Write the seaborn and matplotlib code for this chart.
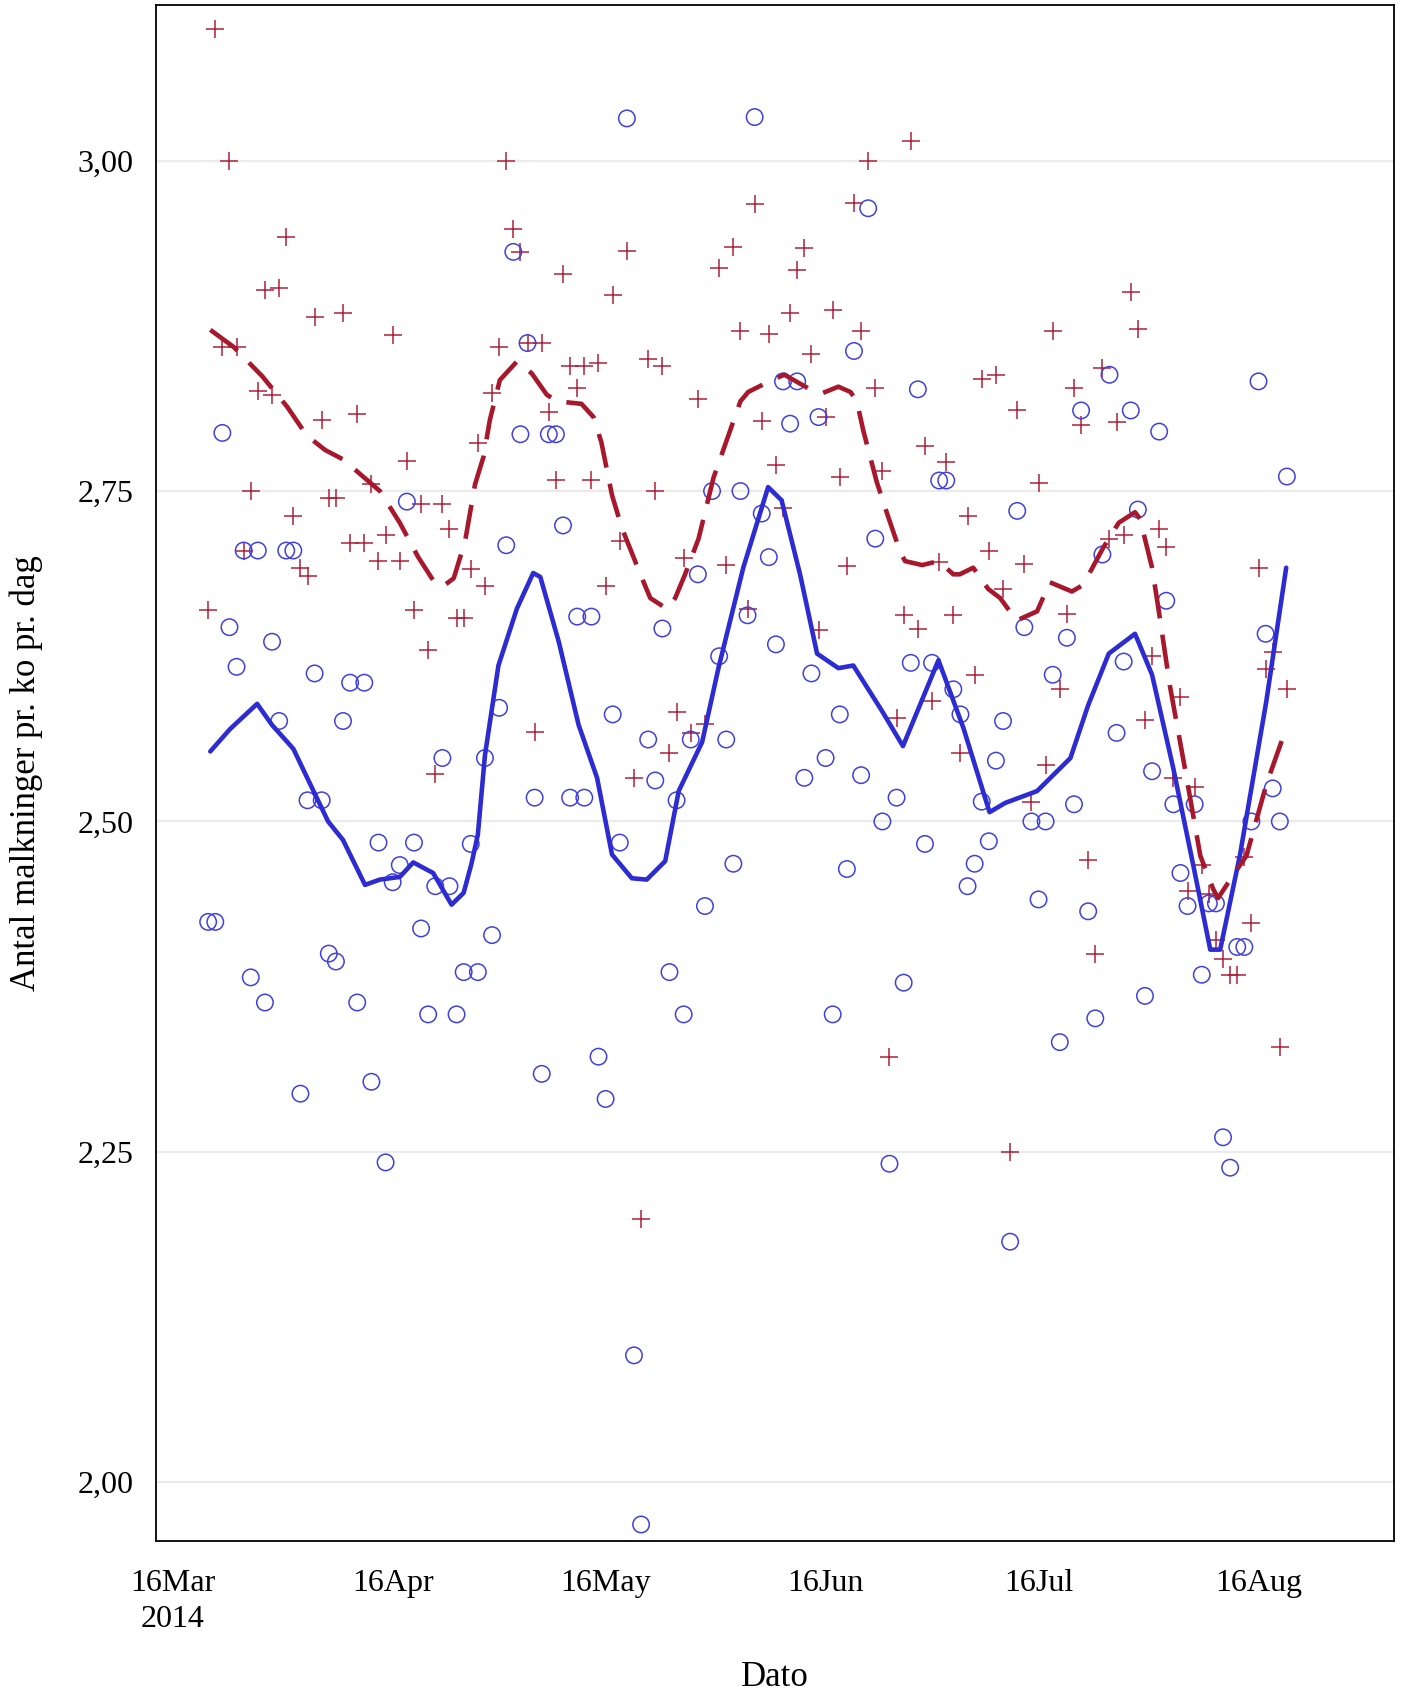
import pandas as pd
import matplotlib
matplotlib.use("Agg")
import matplotlib.pyplot as plt
from matplotlib.ticker import FuncFormatter
import seaborn as sns

# day offsets counted from 16 Mar 2014
start = pd.Timestamp("2014-03-16")

red_days = [5, 6, 7, 8, 9, 10, 11, 12, 13, 14, 15, 16, 17, 18, 19, 20, 21, 22, 23, 24,
            25, 26, 27, 28, 29, 30, 31, 32, 33, 34, 35, 36, 37, 38, 39, 40, 41, 42, 43, 44,
            45, 46, 47, 48, 49, 50, 51, 52, 53, 54, 55, 56, 57, 58, 59, 60, 61, 62, 63, 64,
            65, 66, 67, 68, 69, 70, 71, 72, 73, 74, 75, 77, 78, 79, 80, 81, 82, 83, 84, 85,
            86, 87, 88, 89, 90, 91, 92, 93, 94, 95, 96, 97, 98, 99, 100, 101, 102, 103, 104, 105,
            106, 107, 108, 109, 110, 111, 112, 113, 114, 115, 116, 117, 118, 119, 120, 121, 122, 123, 124, 125,
            126, 127, 128, 129, 130, 131, 132, 133, 134, 135, 136, 137, 138, 139, 140, 141, 142, 143, 144, 145,
            146, 147, 148, 149, 150, 151, 152, 153, 154, 155, 156, 157]
red_vals = [2.660, 3.100, 2.859, 3.000, 2.859, 2.705, 2.750, 2.826, 2.902, 2.823,
            2.904, 2.942, 2.731, 2.692, 2.686, 2.882, 2.804, 2.745, 2.745, 2.885,
            2.711, 2.808, 2.711, 2.755, 2.697, 2.717, 2.868, 2.697, 2.773, 2.660,
            2.740, 2.630, 2.536, 2.740, 2.721, 2.654, 2.654, 2.691, 2.786, 2.678,
            2.824, 2.859, 3.000, 2.948, 2.931, 2.862, 2.568, 2.862, 2.810, 2.758,
            2.914, 2.845, 2.828, 2.845, 2.758, 2.847, 2.678, 2.898, 2.712, 2.932,
            2.533, 2.199, 2.850, 2.750, 2.845, 2.552, 2.583, 2.699, 2.567, 2.820,
            2.574, 2.919, 2.694, 2.935, 2.871, 2.661, 2.967, 2.803, 2.869, 2.770,
            2.737, 2.885, 2.917, 2.934, 2.854, 2.645, 2.806, 2.887, 2.761, 2.693,
            2.968, 2.871, 3.000, 2.828, 2.765, 2.322, 2.578, 2.656, 3.015, 2.646,
            2.784, 2.591, 2.696, 2.772, 2.656, 2.552, 2.731, 2.611, 2.835, 2.705,
            2.838, 2.676, 2.250, 2.811, 2.695, 2.515, 2.756, 2.543, 2.871, 2.600,
            2.657, 2.828, 2.800, 2.471, 2.400, 2.843, 2.714, 2.802, 2.717, 2.901,
            2.873, 2.577, 2.625, 2.721, 2.708, 2.533, 2.594, 2.447, 2.526, 2.467,
            2.445, 2.410, 2.396, 2.384, 2.384, 2.473, 2.423, 2.692, 2.615, 2.628,
            2.329, 2.600]

blue_days = [5, 6, 7, 8, 9, 10, 11, 12, 13, 14, 15, 16, 17, 18, 19, 20, 21, 22, 23, 24,
             25, 26, 27, 28, 29, 30, 31, 32, 33, 34, 35, 36, 37, 38, 39, 40, 41, 42, 43, 44,
             45, 46, 47, 48, 49, 50, 51, 52, 53, 54, 55, 56, 57, 58, 59, 60, 61, 62, 63, 64,
             65, 66, 67, 68, 69, 70, 71, 72, 73, 74, 75, 76, 77, 78, 79, 80, 81, 82, 83, 84,
             85, 86, 87, 88, 89, 90, 91, 92, 93, 94, 95, 96, 97, 98, 99, 100, 101, 102, 103, 104,
             105, 106, 107, 108, 109, 110, 111, 112, 113, 114, 115, 116, 117, 118, 119, 120, 121, 122, 123, 124,
             125, 126, 127, 128, 129, 130, 131, 132, 133, 134, 135, 136, 137, 138, 139, 140, 141, 142, 143, 144,
             145, 146, 147, 148, 149, 150, 151, 152, 153, 154, 155, 156, 157]
blue_vals = [2.424, 2.424, 2.794, 2.647, 2.617, 2.705, 2.382, 2.705, 2.363, 2.636,
             2.576, 2.705, 2.705, 2.294, 2.516, 2.612, 2.516, 2.400, 2.394, 2.576,
             2.605, 2.363, 2.605, 2.303, 2.484, 2.242, 2.454, 2.467, 2.742, 2.484,
             2.419, 2.354, 2.451, 2.548, 2.451, 2.354, 2.386, 2.483, 2.386, 2.548,
             2.414, 2.586, 2.709, 2.931, 2.793, 2.862, 2.518, 2.309, 2.793, 2.793,
             2.724, 2.518, 2.655, 2.518, 2.655, 2.322, 2.290, 2.581, 2.484, 3.032,
             2.096, 1.968, 2.562, 2.531, 2.646, 2.386, 2.516, 2.354, 2.562, 2.687,
             2.436, 2.750, 2.625, 2.562, 2.468, 2.750, 2.656, 3.033, 2.733, 2.700,
             2.634, 2.833, 2.801, 2.833, 2.533, 2.612, 2.806, 2.548, 2.354, 2.581,
             2.464, 2.856, 2.535, 2.964, 2.714, 2.500, 2.241, 2.518, 2.378, 2.620,
             2.827, 2.483, 2.620, 2.758, 2.758, 2.600, 2.581, 2.451, 2.468, 2.515,
             2.485, 2.546, 2.576, 2.182, 2.735, 2.647, 2.500, 2.441, 2.500, 2.611,
             2.333, 2.639, 2.513, 2.811, 2.432, 2.351, 2.702, 2.838, 2.567, 2.621,
             2.811, 2.736, 2.368, 2.538, 2.795, 2.667, 2.513, 2.461, 2.436, 2.513,
             2.384, 2.438, 2.438, 2.261, 2.238, 2.405, 2.405, 2.500, 2.833, 2.642,
             2.525, 2.500, 2.761]

# smoothed curves
red_line_days = [5.3, 8.6, 12.6, 16.1, 18.9, 21.5, 24.0, 29.2, 32.0, 34.6, 37.0, 38.1, 39.6,
                 41.2, 42.6, 43.8, 44.7, 46.1, 48.5, 50.6, 52.7, 54.1, 57.6, 59.3, 60.4, 61.9,
                 63.3, 65.9, 67.3, 69.6, 70.8, 72.2, 74.1, 76.2, 78.1, 80.0, 81.1, 84.8, 86.2,
                 89.8, 91.5, 93.8, 95.5, 96.4, 97.3, 99.2, 100.6, 102.5, 103.2, 105.6, 107.9,
                 110.0, 110.9, 112.8, 114.9, 116.6, 118.9, 121.8, 123.6, 126.7, 128.3, 131.1,
                 133.3, 135.6, 136.3, 138.0, 138.9, 140.5, 142.7, 144.8, 146.6, 147.3, 149.5,
                 151.3, 154.1, 157.0]
red_line_vals = [2.872, 2.859, 2.837, 2.814, 2.792, 2.781, 2.774, 2.750, 2.726, 2.700, 2.680, 2.678, 2.684,
                 2.712, 2.755, 2.776, 2.804, 2.834, 2.848, 2.839, 2.823, 2.818, 2.816, 2.806, 2.787, 2.747,
                 2.722, 2.687, 2.669, 2.661, 2.669, 2.687, 2.714, 2.760, 2.789, 2.818, 2.825, 2.835, 2.838,
                 2.827, 2.824, 2.829, 2.825, 2.818, 2.796, 2.757, 2.734, 2.704, 2.697, 2.694, 2.697,
                 2.687, 2.687, 2.692, 2.676, 2.669, 2.652, 2.659, 2.681, 2.674, 2.679, 2.707,
                 2.726, 2.734, 2.729, 2.692, 2.661, 2.603, 2.538, 2.474, 2.449, 2.442, 2.460,
                 2.474, 2.528, 2.572]

blue_line_days = [5.3, 8.1, 11.9, 14.0, 17.0, 19.4, 21.9, 24.0, 25.0, 27.1, 29.2, 32.0, 33.9,
                  36.7, 39.3, 41.0, 42.1, 43.0, 44.0, 45.9, 48.5, 50.8, 51.8, 54.4, 57.2, 59.8,
                  61.9, 64.7, 66.8, 69.4, 71.3, 74.6, 76.9, 80.4, 83.9, 85.8, 88.4, 90.8, 93.8,
                  95.9, 99.9, 102.9, 107.9, 111.4, 115.1, 117.3, 121.8, 126.5, 129.0, 131.9,
                  135.6, 138.0, 141.0, 143.8, 146.2, 147.6, 150.4, 154.1, 156.9]
blue_line_vals = [2.553, 2.570, 2.589, 2.573, 2.555, 2.528, 2.500, 2.486, 2.475, 2.452, 2.456, 2.458, 2.469,
                  2.461, 2.437, 2.446, 2.468, 2.490, 2.550, 2.618, 2.661, 2.688, 2.685, 2.636, 2.573, 2.533,
                  2.475, 2.457, 2.456, 2.470, 2.523, 2.560, 2.616, 2.692, 2.753, 2.743, 2.687, 2.627, 2.616,
                  2.618, 2.584, 2.557, 2.622, 2.571, 2.507, 2.514, 2.523, 2.548, 2.588, 2.627,
                  2.642, 2.611, 2.540, 2.467, 2.403, 2.403, 2.475, 2.591, 2.692]

tick_dates = ["2014-03-16", "2014-04-16", "2014-05-16", "2014-06-16", "2014-07-16", "2014-08-16"]
tick_labels = ["16Mar\n2014", "16Apr", "16May", "16Jun", "16Jul", "16Aug"]
y_ticks = [2.00, 2.25, 2.50, 2.75, 3.00]


def to_dates(days):
    return start + pd.to_timedelta(days, unit="D")


red_df = pd.DataFrame({"date": to_dates(red_days), "val": red_vals})
blue_df = pd.DataFrame({"date": to_dates(blue_days), "val": blue_vals})
red_line = pd.DataFrame({"date": to_dates(red_line_days), "val": red_line_vals})
blue_line = pd.DataFrame({"date": to_dates(blue_line_days), "val": blue_line_vals})

sns.set_theme(style="white")
plt.rcParams["font.family"] = ["Liberation Serif", "DejaVu Serif"]

RED = "#B0203A"
BLUE = "#4040E0"

fig = plt.figure(figsize=(14.01, 16.91), dpi=100)
ax = fig.add_axes([0.1114, 0.0887, 0.8833, 0.9081])

sns.scatterplot(data=red_df, x="date", y="val", marker="+", s=150, color=RED,
                linewidth=1.1, ax=ax, zorder=3)
sns.scatterplot(data=blue_df, x="date", y="val", marker="o", s=140, color=BLUE,
                facecolor="none", edgecolor=BLUE, linewidth=1.1, ax=ax, zorder=3)
sns.lineplot(data=blue_line, x="date", y="val", color="#2C2CD2", linewidth=3.3,
             sort=False, estimator=None, ax=ax, zorder=4)
sns.lineplot(data=red_line, x="date", y="val", color="#A8182C", linewidth=3.3,
             linestyle=(0, (7.5, 3.6)), sort=False, estimator=None, ax=ax, zorder=4)

ax.set_xlim(to_dates([-2.34, 172.03]))
ax.set_ylim(1.9555, 3.1175)
ax.set_xticks(pd.to_datetime(tick_dates))
ax.set_xticklabels(tick_labels, linespacing=1.3)
ax.set_yticks(y_ticks)
ax.yaxis.set_major_formatter(FuncFormatter(lambda v, p: f"{v:.2f}".replace(".", ",")))

ax.yaxis.grid(True, color="#EBEBEB", linewidth=1.6)
ax.xaxis.grid(False)
ax.set_axisbelow(True)

for sp in ax.spines.values():
    sp.set_visible(True)
    sp.set_color("black")
    sp.set_linewidth(1.3)

ax.tick_params(axis="both", which="major", direction="out", length=6.5, width=1.2,
               color="black", labelsize=23, labelcolor="black")
ax.tick_params(axis="x", pad=14)
ax.tick_params(axis="y", pad=10)

ax.set_xlabel("Dato", fontsize=25, color="black")
ax.set_ylabel("Antal malkninger pr. ko pr. dag", fontsize=25, color="black")
ax.xaxis.set_label_coords(0.5, -0.078)
ax.yaxis.set_label_coords(-0.091, 0.5)

fig.savefig("out.png", dpi=100)
